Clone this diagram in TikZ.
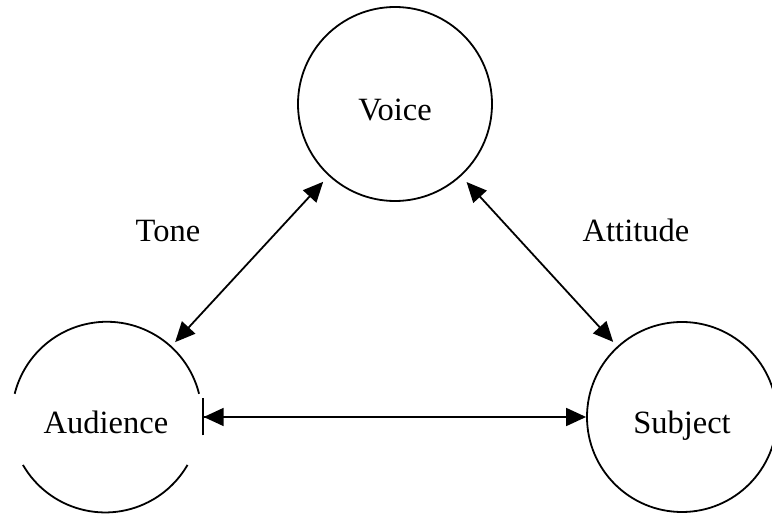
\documentclass[tikz,border=0pt]{standalone}
\usepackage{fontspec}
\setmainfont{Liberation Serif}
\usetikzlibrary{arrows.meta, positioning}
\tikzset
{
    >={Triangle[length=20pt, width=18pt]},
    every node/.style={font=\fontsize{32.5}{38}\selectfont},
    ring/.style={circle, draw, line width=1.8pt, minimum size=194pt, inner sep=0pt}, % the three circles
    txt/.style={text height=22pt, text depth=0pt, yshift=-6pt}, % names sit a bit below the middle
    link/.style={<->, line width=1.8pt},
}
\begin{document}
\begin{tikzpicture}[x=1pt, y=1pt]
    \useasboundingbox (0,0) rectangle (772,514);
    % Circles
    \node[ring, label={[txt]center:Voice}] (voice) at (395,410) {};
    \node[ring, draw=none, minimum size=190pt, label={[txt]center:Audience}] (aud) at (106,97) {};
    \node[ring, minimum size=190pt, label={[txt]center:Subject}] (subj) at (682,97) {};

    % Audience is drawn open on both sides
    \draw[line width=1.8pt] (aud.14) arc[start angle=14, end angle=166, radius=95pt];
    \draw[line width=1.8pt] (aud.210) arc[start angle=210, end angle=330, radius=95pt];

    % Links
    \draw[link, shorten <=6pt, shorten >=8pt] (aud) -- (voice);
    \draw[link, shorten <=8pt, shorten >=6pt] (voice) -- (subj);
    \draw[{Bar[width=37pt, sep=0pt]Triangle[length=20pt, width=18pt]}-{Triangle[length=20pt, width=18pt]}, line width=1.8pt] (aud) -- (subj);

    % Labels
    \node[anchor=base] (tone) at (168,272) {Tone};
    \node[anchor=base] (att) at (636,272) {Attitude};
\end{tikzpicture}
\end{document}
